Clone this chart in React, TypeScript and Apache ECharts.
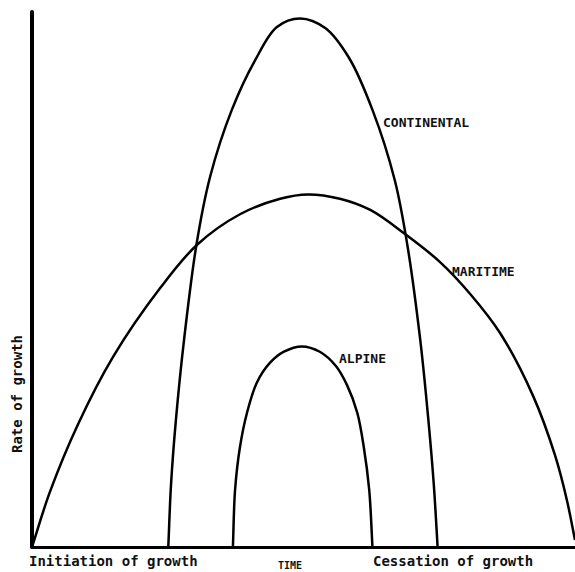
import React, { useEffect, useRef } from "react";
import * as echarts from "echarts";

// Time runs 0–100 along the x axis, rate of growth 0–100 up the y axis.
const continentalX = [25.1, 25.6, 26.5, 28.0, 30.3, 32.8, 36.8, 41.1, 45.1, 49.4, 54.0, 58.4, 62.7, 66.8, 69.1, 71.5, 73.0, 74.0, 74.7];
const continentalY = [0, 11.6, 23.7, 38.7, 56.6, 69.2, 81.7, 91.0, 97.2, 98.8, 97.0, 91.4, 81.7, 68.6, 56.6, 38.7, 23.7, 11.6, 0];

const maritimeX = [0, 3.3, 8.5, 14.9, 23.6, 30.4, 38.3, 45.7, 50.8, 56.7, 62.3, 68.7, 75.1, 80.7, 86.2, 92.3, 96.3, 98.5, 100];
const maritimeY = [0, 10.3, 23.0, 35.5, 48.4, 56.5, 62.2, 65.1, 65.9, 65.1, 63.0, 58.5, 53.3, 47.3, 40.0, 28.2, 17.2, 8.8, 1.3];

const alpineX = [37.0, 37.4, 38.3, 39.6, 41.4, 43.8, 46.4, 49.7, 53.0, 56.0, 58.0, 59.9, 61.1, 62.1, 62.7];
const alpineY = [0, 10.7, 18.7, 25.1, 30.7, 34.4, 36.5, 37.5, 36.5, 33.8, 30.3, 25.1, 18.7, 10.7, 0];

const seriesNames = ["CONTINENTAL", "MARITIME", "ALPINE"];
const xAxisName = "TIME";
const yAxisName = "Rate of growth";
const startLabel = "Initiation of growth";
const endLabel = "Cessation of growth";

const zip = (xs: number[], ys: number[]) => xs.map((x, i) => [x, ys[i]]);

// Centripetal Catmull-Rom spline through pixel points, as SVG path data.
function splinePath(pts: number[][]): string {
  const n = pts.length;
  if (n < 2) return "";
  const P = (i: number) => {
    if (i < 0) return [2 * pts[0][0] - pts[1][0], 2 * pts[0][1] - pts[1][1]];
    if (i >= n) return [2 * pts[n - 1][0] - pts[n - 2][0], 2 * pts[n - 1][1] - pts[n - 2][1]];
    return pts[i];
  };
  const dist = (a: number[], b: number[]) => Math.max(1e-6, Math.pow(Math.hypot(b[0] - a[0], b[1] - a[1]), 0.5));
  let d = `M${pts[0][0]},${pts[0][1]}`;
  for (let i = 0; i < n - 1; i++) {
    const p0 = P(i - 1), p1 = P(i), p2 = P(i + 1), p3 = P(i + 2);
    const d1 = dist(p0, p1), d2 = dist(p1, p2), d3 = dist(p2, p3);
    const b1 = [0, 1].map(
      (k) => (d1 * d1 * p2[k] - d2 * d2 * p0[k] + (2 * d1 * d1 + 3 * d1 * d2 + d2 * d2) * p1[k]) / (3 * d1 * (d1 + d2))
    );
    const b2 = [0, 1].map(
      (k) => (d3 * d3 * p1[k] - d2 * d2 * p3[k] + (2 * d3 * d3 + 3 * d3 * d2 + d2 * d2) * p2[k]) / (3 * d3 * (d3 + d2))
    );
    d += ` C${b1[0]},${b1[1]} ${b2[0]},${b2[1]} ${p2[0]},${p2[1]}`;
  }
  return d;
}

export default function App() {
  const ref = useRef<HTMLDivElement>(null);
  useEffect(() => {
    if (!ref.current) return;
    const chart = echarts.init(ref.current, null, { renderer: "svg" });
    const font = "'DejaVu Sans Mono', 'Liberation Mono', monospace";
    const mkSeries = (name: string, data: number[][]) => ({
      name,
      type: "custom",
      data,
      clip: true,
      encode: { x: 0, y: 1 },
      renderItem: (params: any, api: any) => {
        if (params.dataIndex !== 0) return null;
        const pix = data.map((p) => api.coord(p));
        return {
          type: "path",
          shape: { pathData: splinePath(pix) },
          style: { fill: "none", stroke: "#000", lineWidth: 2.5, lineJoin: "round" },
        };
      },
    });
    chart.setOption({
      animation: false,
      backgroundColor: "#fff",
      grid: { left: 32, right: 0, top: 12, bottom: 25 },
      xAxis: {
        type: "value",
        min: 0,
        max: 100,
        axisLine: { lineStyle: { color: "#000", width: 3 } },
        axisTick: { show: false },
        axisLabel: { show: false },
        splitLine: { show: false },
      },
      yAxis: {
        type: "value",
        min: 0,
        max: 100,
        axisLine: { show: true, lineStyle: { color: "#000", width: 4, cap: "round" } },
        axisTick: { show: false },
        axisLabel: { show: false },
        splitLine: { show: false },
      },
      series: [
        mkSeries(seriesNames[0], zip(continentalX, continentalY)),
        mkSeries(seriesNames[1], zip(maritimeX, maritimeY)),
        mkSeries(seriesNames[2], zip(alpineX, alpineY)),
      ],
      graphic: [
        { type: "text", x: 383, y: 122, style: { text: seriesNames[0], font: `bold 13px ${font}`, fill: "#111", verticalAlign: "middle" } },
        { type: "text", x: 452, y: 271, style: { text: seriesNames[1], font: `bold 13px ${font}`, fill: "#111", verticalAlign: "middle" } },
        { type: "text", x: 339, y: 358, style: { text: seriesNames[2], font: `bold 13px ${font}`, fill: "#111", verticalAlign: "middle" } },
        { type: "text", x: 29, y: 561, style: { text: startLabel, font: `bold 14px ${font}`, fill: "#111", verticalAlign: "middle" } },
        { type: "text", x: 373, y: 561, style: { text: endLabel, font: `bold 14px ${font}`, fill: "#111", verticalAlign: "middle" } },
        { type: "text", x: 278, y: 565, style: { text: xAxisName, font: `bold 10px ${font}`, fill: "#111", verticalAlign: "middle" } },
        {
          type: "text",
          x: 17,
          y: 394,
          rotation: Math.PI / 2,
          style: { text: yAxisName, font: `bold 14px ${font}`, fill: "#111", align: "center", verticalAlign: "middle" },
        },
      ],
    });
    return () => chart.dispose();
  }, []);
  return <div ref={ref} style={{ position: "fixed", left: 0, top: 0, width: 575, height: 572, background: "#fff" }} />;
}
